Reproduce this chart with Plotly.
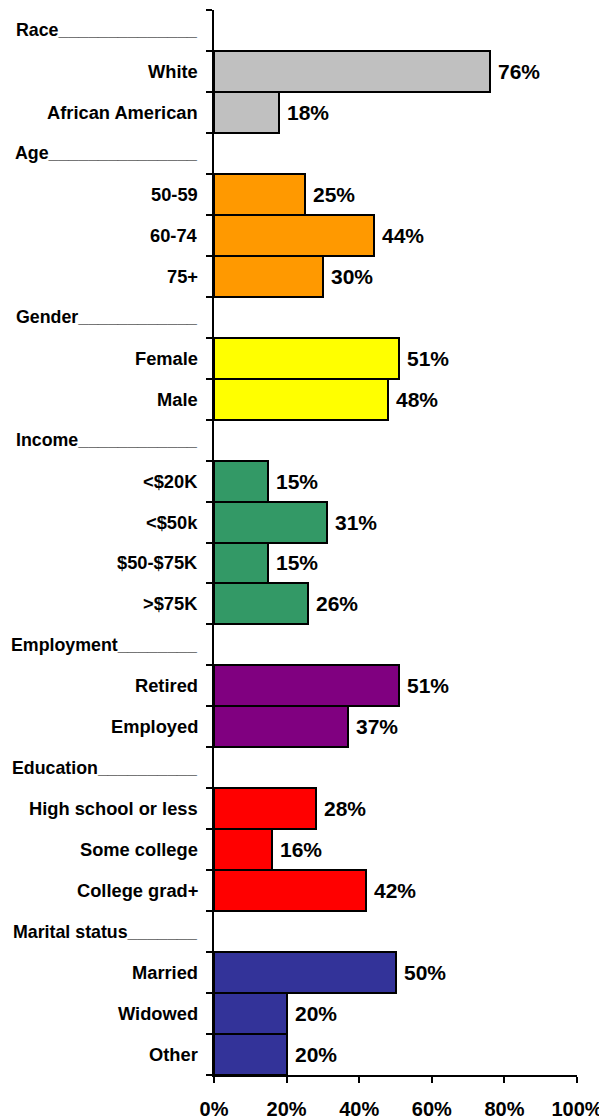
import plotly.graph_objects as go

groups = ["Race", "Age", "Gender", "Income", "Employment", "Education", "Marital status"]
header_underscores = [14, 15, 12, 12, 8, 10, 7]
group_colors = ["#C0C0C0", "#FF9900", "#FFFF00", "#339966", "#800080", "#FF0000", "#333399"]
group_categories = [
    ["White", "African American"],
    ["50-59", "60-74", "75+"],
    ["Female", "Male"],
    ["<$20K", "<$50k", "$50-$75K", ">$75K"],
    ["Retired", "Employed"],
    ["High school or less", "Some college", "College grad+"],
    ["Married", "Widowed", "Other"],
]
group_values = [
    [76, 18],
    [25, 44, 30],
    [51, 48],
    [15, 31, 15, 26],
    [51, 37],
    [28, 16, 42],
    [50, 20, 20],
]
x_ticks = [0, 20, 40, 60, 80, 100]
x_tick_labels = ["0%", "20%", "40%", "60%", "80%", "100%"]

FONT = "Liberation Sans, Arial, sans-serif"
PLOT_W = 363

fig = go.Figure()
annotations = []
row = 0
for g, nu, col, cats, vals in zip(groups, header_underscores, group_colors, group_categories, group_values):
    annotations.append(dict(
        x=-14 / PLOT_W, xref="paper", y=row, yref="y", text="<b>" + g + "_" * nu + "</b>",
        xanchor="right", yanchor="middle", showarrow=False,
        font=dict(family=FONT, size=17.8, color="black")))
    row += 1
    ys = list(range(row, row + len(cats)))
    fig.add_trace(go.Bar(
        x=vals, y=ys, orientation="h", width=1,
        marker=dict(color=col, line=dict(color="black", width=2)),
        hoverinfo="skip", showlegend=False))
    for c, v, yy in zip(cats, vals, ys):
        annotations.append(dict(
            x=-14 / PLOT_W, xref="paper", y=yy, yref="y", text="<b>" + c + "</b>",
            xanchor="right", yanchor="middle", showarrow=False,
            font=dict(family=FONT, size=18.3, color="black")))
        annotations.append(dict(
            x=v, xref="x", y=yy, yref="y", text="<b>" + str(v) + "%</b>",
            xanchor="left", yanchor="middle", showarrow=False, xshift=6,
            font=dict(family=FONT, size=21, color="black")))
    row += len(cats)

n_rows = row
fig.update_layout(
    width=607, height=1118,
    margin=dict(l=206, r=38, t=2, b=51),
    plot_bgcolor="white", paper_bgcolor="white",
    bargap=0,
    annotations=annotations,
    xaxis=dict(
        range=[0, 100], tickvals=x_ticks, ticktext=x_tick_labels,
        showgrid=False, zeroline=False, showline=True, linecolor="black", linewidth=2,
        ticks="outside", ticklen=6, tickwidth=2, tickcolor="black",
        ticklabelstandoff=9,
        tickfont=dict(family=FONT, size=20, color="black", weight="bold"),
        fixedrange=True),
    yaxis=dict(
        range=[n_rows - 0.5, -0.5], tickvals=[i - 0.5 for i in range(n_rows + 1)],
        showticklabels=False, showgrid=False, zeroline=False,
        showline=True, linecolor="black", linewidth=2,
        ticks="outside", ticklen=6, tickwidth=2, tickcolor="black",
        fixedrange=True),
)

fig.write_html("out.html", config={"displayModeBar": False})
